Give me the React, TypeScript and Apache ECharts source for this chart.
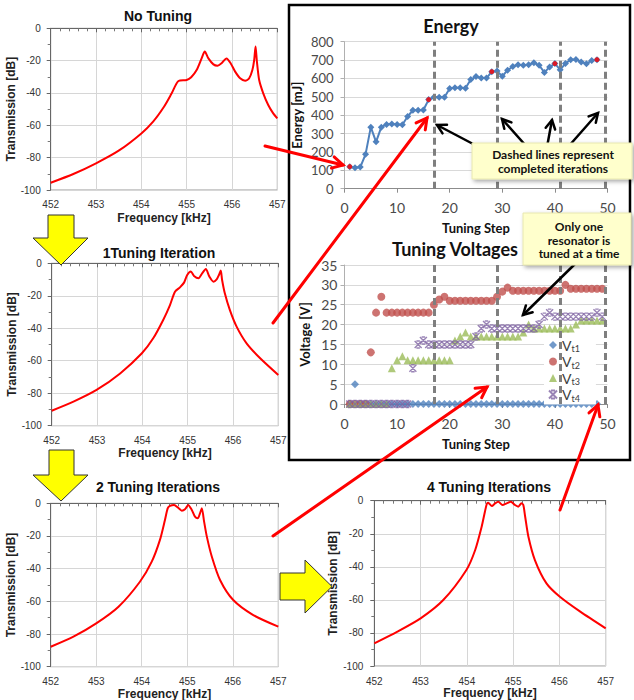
import { useEffect, useRef } from "react";
import * as echarts from "echarts";

// ---------- Transmission curves (frequency kHz, transmission dB) ----------
const FREQ_0 = [452, 452.5, 453, 453.5, 454, 454.26, 454.5, 454.67, 454.82, 455, 455.1, 455.22, 455.33, 455.4, 455.48, 455.59, 455.68, 455.77, 455.88, 455.97, 456.07, 456.18, 456.29, 456.38, 456.45, 456.49, 456.52, 456.55, 456.6, 456.69, 456.8, 456.91, 457];
const DB_0 = [-95.5, -90.1, -83.5, -75.7, -65, -57.7, -48.5, -40.2, -32.6, -32, -30.3, -25.8, -18.6, -14.4, -18.6, -22.3, -23.1, -21.6, -18.6, -21.6, -26.8, -30.9, -32.4, -30.9, -25.8, -19.6, -11.3, -20.6, -32, -40.2, -47.4, -52.6, -55.7];

const FREQ_1 = [452, 452.48, 452.99, 453.51, 453.99, 454.24, 454.46, 454.61, 454.72, 454.83, 454.92, 454.99, 455.07, 455.14, 455.24, 455.32, 455.4, 455.48, 455.57, 455.64, 455.69, 455.73, 455.76, 455.82, 455.93, 456.08, 456.3, 456.6, 457];
const DB_1 = [-90.8, -85.2, -78, -67.8, -55.4, -46.2, -34.9, -25.7, -17.5, -14.8, -11.9, -7.2, -5.1, -7.8, -9.2, -6.2, -3.5, -8.2, -11.3, -9.9, -7.2, -4.5, -10.3, -18.5, -28.7, -39, -49.3, -58.5, -68.8];

const FREQ_2 = [452, 452.5, 453, 453.49, 453.96, 454.22, 454.4, 454.51, 454.57, 454.62, 454.71, 454.8, 454.88, 454.95, 455.02, 455.1, 455.17, 455.23, 455.28, 455.32, 455.37, 455.43, 455.54, 455.72, 456.01, 456.45, 457];
const DB_2 = [-87.8, -81.6, -73.5, -63.3, -48, -35.7, -22.4, -10.2, -3.1, -1.6, -1, -2.7, -4.5, -3.7, -1, -4.1, -8.2, -9.2, -6.1, -3.1, -11.2, -20.4, -32.7, -46.9, -59.2, -68.4, -75.5];

const FREQ_4 = [452, 452.5, 453, 453.49, 453.99, 454.18, 454.32, 454.39, 454.43, 454.46, 454.54, 454.61, 454.68, 454.77, 454.86, 454.95, 455.04, 455.11, 455.18, 455.22, 455.26, 455.33, 455.47, 455.72, 456.01, 456.45, 457];
const DB_4 = [-86.3, -79.2, -71.2, -60.1, -41.9, -29.8, -15.7, -6.7, -2, -1.2, -3.2, -1.6, -0.6, -2.6, -1.6, -0.6, -2.6, -3.6, -1.6, -2.6, -9.7, -21.8, -35.9, -50, -58.1, -67.1, -77.2];

const FREQ_TICKS = [452, 453, 454, 455, 456, 457];

// ---------- Energy vs tuning step ----------
const STEPS = [1, 2, 3, 4, 5, 6, 7, 8, 9, 10, 11, 12, 13, 14, 15, 16, 17, 18, 19, 20, 21, 22, 23, 24, 25, 26, 27, 28, 29, 30, 31, 32, 33, 34, 35, 36, 37, 38, 39, 40, 41, 42, 43, 44, 45, 46, 47, 48, 49];
const ENERGY = [120, 114, 118, 187, 335, 255, 335, 350, 352, 350, 348, 393, 427, 427, 428, 485, 498, 498, 498, 545, 550, 550, 547, 594, 610, 602, 602, 637, 640, 612, 645, 665, 675, 672, 675, 685, 672, 633, 662, 681, 648, 681, 702, 703, 690, 680, 698, 702];
const ITER_STEPS = [1, 16, 28, 40, 48];
const ITER_ENERGY = [120, 485, 637, 681, 702];
const ITER_DONE = [17, 29, 41, 49.6];

// ---------- Tuning voltages ----------
const VT1 = [0, 5, 0, 0, 0, 0, 0, 0, 0, 0, 0, 0, 0, 0, 0, 0, 0, 0, 0, 0, 0, 0, 0, 0, 0, 0, 0, 0, 0, 0, 0, 0, 0, 0, 0, 0, 0, 0, 0, 0, 0, 0, 0, 0, 0, 0, 0, 0];
const VT2 = [0, 0, 0, 0, 13, 23, 27, 23, 23, 23, 23, 23, 23, 23, 23, 23, 25, 26.3, 27, 26, 26, 26, 26, 26, 26, 26, 26, 26, 27, 28.3, 29.3, 28.5, 28.5, 28.5, 28.5, 28.5, 28.5, 28.5, 28.5, 28.5, 28.5, 30, 29, 29, 29, 29, 29, 29, 29];
const VT3 = [0, 0, 0, 0, 0, 0, 0, 0, 9, 11, 12, 11, 11, 11, 11, 11, 11, 11, 11, 11, 16, 17, 18, 17, 17, 17, 17, 17, 17, 17, 17, 17, 17, 18, 20, 19, 19, 19, 19, 19, 19, 19, 19, 20, 21, 21, 21, 21, 21];
const VT4 = [0, 0, 0, 0, 0, 0, 0, 0, 0, 0, 0, 0, 9, 15, 16, 15, 15, 15, 15, 15, 15, 15, 15, 15, 17, 19, 20, 19, 19, 19, 19, 19, 19, 19, 19, 19, 20, 22, 23, 22, 22, 22, 22, 22, 22, 22, 22, 23, 22];

const ARIAL = "'Liberation Sans', Arial, sans-serif";
const CAL = "Lato, 'Open Sans', sans-serif";

const pairs = (xs: number[], ys: number[]) => ys.map((y, i) => [xs[i], y]);

function txAxis(gi: number, margin: number, gap: number) {
  return {
    type: "value", gridIndex: gi, min: FREQ_TICKS[0], max: FREQ_TICKS[FREQ_TICKS.length - 1], interval: 1,
    name: "Frequency [kHz]", nameLocation: "middle", nameGap: gap,
    nameTextStyle: { fontFamily: ARIAL, fontWeight: "bold", fontSize: 12, color: "#222" },
    axisLine: { show: true, lineStyle: { color: "#666", width: 1 } },
    axisTick: { show: true, length: 4, lineStyle: { color: "#666" } },
    minorTick: { show: true, splitNumber: 5, length: 3, lineStyle: { color: "#777" } },
    axisLabel: { fontFamily: ARIAL, fontSize: 10, color: "#333", margin },
    splitLine: { show: true, lineStyle: { color: "#d6d6d6" } },
  };
}
function tyAxis(gi: number, margin: number, gap: number) {
  return {
    type: "value", gridIndex: gi, min: -100, max: 0, interval: 20,
    name: "Transmission [dB]", nameLocation: "middle", nameGap: gap,
    nameTextStyle: { fontFamily: ARIAL, fontWeight: "bold", fontSize: 12, color: "#222" },
    axisLine: { show: true, lineStyle: { color: "#666", width: 1 } },
    axisTick: { show: true, length: 4, lineStyle: { color: "#666" } },
    minorTick: { show: true, splitNumber: 2, length: 3, lineStyle: { color: "#777" } },
    axisLabel: { fontFamily: ARIAL, fontSize: 10, color: "#333", margin },
    splitLine: { show: true, lineStyle: { color: "#d6d6d6" } },
  };
}

function arrow(x1: number, y1: number, x2: number, y2: number, color: string, width: number, head: number, z: number) {
  const ang = Math.atan2(y2 - y1, x2 - x1);
  const a1 = ang + Math.PI - 0.5;
  const a2 = ang + Math.PI + 0.5;
  return [
    { type: "line", z, shape: { x1, y1, x2, y2 }, style: { stroke: color, lineWidth: width, lineCap: "round" } },
    {
      type: "polyline", z,
      shape: { points: [[x2 + head * Math.cos(a1), y2 + head * Math.sin(a1)], [x2, y2], [x2 + head * Math.cos(a2), y2 + head * Math.sin(a2)]] },
      style: { stroke: color, lineWidth: width, fill: "none", lineJoin: "miter", lineCap: "round" },
    },
  ];
}

function title(text: string, x: number, y: number, font: string) {
  return { type: "text", z: 50, x, y, style: { text, font, fill: "#111", textAlign: "center", textVerticalAlign: "middle" } };
}

const X_SYMBOL = "path://M0,0L10,10M10,0L0,10M2.5,0L7.5,0M2.5,10L7.5,10";

export default function App() {
  const ref = useRef<HTMLDivElement>(null);
  useEffect(() => {
    if (!ref.current) return;
    const chart = echarts.init(ref.current, null, { renderer: "svg" });

    const dashLine = {
      silent: true, symbol: ["none", "none"], label: { show: false },
      lineStyle: { color: "#7f7f7f", width: 3, type: [7, 4] },
      data: ITER_DONE.map((v) => ({ xAxis: v })),
    };

    const stepAxis = (gi: number, margin: number) => ({
      type: "value", gridIndex: gi, min: 0, max: 50, interval: 10,
      name: "Tuning Step", nameLocation: "middle", nameGap: 33,
      nameTextStyle: { fontFamily: CAL, fontWeight: "bold", fontSize: 13, color: "#111" },
      axisLine: { show: true, lineStyle: { color: "#8c8c8c" } },
      axisTick: { show: true, length: 4, lineStyle: { color: "#8c8c8c" } },
      axisLabel: { fontFamily: CAL, fontSize: 14, color: "#4a4a4a", margin },
      splitLine: { show: false },
    });

    const legendNames: Record<string, string> = { Vt1: "t1", Vt2: "t2", Vt3: "t3", Vt4: "t4" };

    const graphics: any[] = [
      // frame around the tuning plots
      { type: "rect", z: 40, shape: { x: 289, y: 5, width: 341, height: 455 }, style: { fill: "none", stroke: "#000", lineWidth: 2.5 } },
      title("No Tuning", 158, 16, `bold 14px ${ARIAL}`),
      title("1Tuning Iteration", 159, 253, `bold 14px ${ARIAL}`),
      title("2 Tuning Iterations", 158, 487, `bold 14px ${ARIAL}`),
      title("4 Tuning Iterations", 489, 487, `bold 14px ${ARIAL}`),
      title("Energy", 451, 26, `bold 18px ${CAL}`),
      title("Tuning Voltages", 455, 249, `bold 18px ${CAL}`),
      // yellow block arrows
      { type: "polygon", z: 60, shape: { points: [[48, 215], [74, 215], [74, 238], [88, 238], [61, 265], [33, 238], [48, 238]] }, style: { fill: "#ffff00", stroke: "#333", lineWidth: 1 } },
      { type: "polygon", z: 60, shape: { points: [[49, 450], [74, 450], [74, 475], [88, 475], [61, 501], [33, 475], [49, 475]] }, style: { fill: "#ffff00", stroke: "#333", lineWidth: 1 } },
      { type: "polygon", z: 60, shape: { points: [[280, 573], [305, 573], [305, 560], [332, 586.5], [305, 613], [305, 600], [280, 600]] }, style: { fill: "#ffff00", stroke: "#333", lineWidth: 1 } },
      // black arrows from callouts
      ...arrow(475, 145, 437, 125, "#000", 2.5, 10, 70),
      ...arrow(527, 147, 502, 119, "#000", 2.5, 10, 70),
      ...arrow(547, 147, 552, 120, "#000", 2.5, 10, 70),
      ...arrow(568, 147, 598, 113, "#000", 2.5, 10, 70),
      ...arrow(577, 262, 523, 315, "#000", 2.5, 10, 70),
      // callouts
      { type: "rect", z: 80, shape: { x: 472, y: 143, width: 160, height: 36 }, style: { fill: "#ffffcc", stroke: "#e8e8b0", lineWidth: 1, shadowBlur: 4, shadowOffsetX: 2, shadowOffsetY: 2, shadowColor: "rgba(0,0,0,0.35)" } },
      { type: "text", z: 81, x: 553, y: 161, style: { text: "Dashed lines represent\ncompleted iterations", font: `bold 12px ${CAL}`, fill: "#111", textAlign: "center", textVerticalAlign: "middle", lineHeight: 14 } },
      { type: "rect", z: 80, shape: { x: 523, y: 213, width: 108, height: 52 }, style: { fill: "#ffffcc", stroke: "#e8e8b0", lineWidth: 1, shadowBlur: 4, shadowOffsetX: 2, shadowOffsetY: 2, shadowColor: "rgba(0,0,0,0.35)" } },
      { type: "text", z: 81, x: 579, y: 240, style: { text: "Only one\nresonator is\ntuned at a time", font: `bold 12px ${CAL}`, fill: "#111", textAlign: "center", textVerticalAlign: "middle", lineHeight: 13.5 } },
      // red arrows
      ...arrow(265, 146, 343, 165, "#ff0000", 3, 12, 90),
      ...arrow(273, 323, 427, 118, "#ff0000", 3, 12, 90),
      ...arrow(273, 536, 487, 387, "#ff0000", 3, 12, 90),
      ...arrow(560, 510, 598, 405, "#ff0000", 3, 12, 90),
    ];

    chart.setOption({
      animation: false,
      backgroundColor: "#ffffff",
      grid: [
        { left: 50.7, top: 28.3, width: 226.6, height: 161.7, show: true, borderColor: "#999", borderWidth: 1, outerBoundsMode: "none" },
        { left: 51.7, top: 263.3, width: 226.6, height: 162.4, show: true, borderColor: "#999", borderWidth: 1, outerBoundsMode: "none" },
        { left: 50.7, top: 503.3, width: 227.6, height: 163.4, show: true, borderColor: "#999", borderWidth: 1, outerBoundsMode: "none" },
        { left: 374.3, top: 500.7, width: 231.4, height: 165.3, show: true, borderColor: "#999", borderWidth: 1, outerBoundsMode: "none" },
        { left: 344.5, top: 41.7, width: 263, height: 147, outerBoundsMode: "none" },
        { left: 344.5, top: 265, width: 263, height: 139, outerBoundsMode: "none" },
      ],
      xAxis: [
        txAxis(0, 9, 22),
        txAxis(1, 10, 20),
        txAxis(2, 10, 16),
        txAxis(3, 10, 15.5),
        stepAxis(4, 12),
        stepAxis(5, 12.5),
      ],
      yAxis: [
        tyAxis(0, 10, 27),
        tyAxis(1, 10, 27),
        tyAxis(2, 10, 24),
        tyAxis(3, 11, 24),
        {
          type: "value", gridIndex: 4, min: 0, max: 800, interval: 100,
          name: "Energy [mJ]", nameLocation: "middle", nameGap: 41,
          nameTextStyle: { fontFamily: CAL, fontWeight: "bold", fontSize: 13, color: "#111" },
          axisLine: { show: true, lineStyle: { color: "#b0b0b0" } },
          axisTick: { show: true, length: 4, lineStyle: { color: "#b0b0b0" } },
          axisLabel: { fontFamily: CAL, fontSize: 13, color: "#4a4a4a", margin: 11 },
          splitLine: { show: true, lineStyle: { color: "#d9d9d9" } },
        },
        {
          type: "value", gridIndex: 5, min: 0, max: 35, interval: 5,
          name: "Voltage [V]", nameLocation: "middle", nameGap: 33,
          nameTextStyle: { fontFamily: CAL, fontWeight: "bold", fontSize: 13, color: "#111" },
          axisLine: { show: true, lineStyle: { color: "#b0b0b0" } },
          axisTick: { show: true, length: 4, lineStyle: { color: "#b0b0b0" } },
          axisLabel: { fontFamily: CAL, fontSize: 14, color: "#4a4a4a", margin: 7 },
          splitLine: { show: true, lineStyle: { color: "#d9d9d9" } },
        },
      ],
      legend: {
        data: ["Vt1", "Vt2", "Vt3", "Vt4"],
        orient: "vertical", left: 544, top: 336,
        itemGap: 1.5, itemWidth: 8, itemHeight: 8,
        padding: [2, 16, 2, 4],
        backgroundColor: "#ffffff",
        formatter: (name: string) => `{v|V}{s|${legendNames[name]}}`,
        textStyle: {
          color: "#404040",
          rich: {
            v: { fontFamily: CAL, fontSize: 14, color: "#404040", lineHeight: 16 },
            s: { fontFamily: CAL, fontSize: 9, color: "#404040", lineHeight: 10, verticalAlign: "bottom" },
          },
        },
      },
      series: [
        { type: "line", xAxisIndex: 0, yAxisIndex: 0, data: pairs(FREQ_0, DB_0), showSymbol: false, smooth: 0.25, lineStyle: { color: "#ff0000", width: 2 } },
        { type: "line", xAxisIndex: 1, yAxisIndex: 1, data: pairs(FREQ_1, DB_1), showSymbol: false, smooth: 0.25, lineStyle: { color: "#ff0000", width: 2 } },
        { type: "line", xAxisIndex: 2, yAxisIndex: 2, data: pairs(FREQ_2, DB_2), showSymbol: false, smooth: 0.25, lineStyle: { color: "#ff0000", width: 2 } },
        { type: "line", xAxisIndex: 3, yAxisIndex: 3, data: pairs(FREQ_4, DB_4), showSymbol: false, smooth: 0.25, lineStyle: { color: "#ff0000", width: 2 } },
        {
          type: "line", name: "Energy", xAxisIndex: 4, yAxisIndex: 4, data: pairs(STEPS, ENERGY),
          symbol: "diamond", symbolSize: 7, showSymbol: true,
          lineStyle: { color: "#4f81bd", width: 2 }, itemStyle: { color: "#4f81bd" },
          markLine: dashLine,
        },
        {
          type: "scatter", name: "Iteration", xAxisIndex: 4, yAxisIndex: 4, data: pairs(ITER_STEPS, ITER_ENERGY),
          symbol: "circle", symbolSize: 5, itemStyle: { color: "#ff0000" }, z: 5,
        },
        {
          type: "scatter", name: "Vt1", xAxisIndex: 5, yAxisIndex: 5, data: pairs(STEPS, VT1),
          symbol: "diamond", symbolSize: 8, itemStyle: { color: "#4f81bd" },
          markLine: dashLine,
        },
        {
          type: "scatter", name: "Vt2", xAxisIndex: 5, yAxisIndex: 5, data: pairs(STEPS, VT2),
          symbol: "circle", symbolSize: 8, itemStyle: { color: "#c0504d" },
        },
        {
          type: "scatter", name: "Vt3", xAxisIndex: 5, yAxisIndex: 5, data: pairs(STEPS, VT3),
          symbol: "triangle", symbolSize: 8, itemStyle: { color: "#9bbb59" },
        },
        {
          type: "scatter", name: "Vt4", xAxisIndex: 5, yAxisIndex: 5, data: pairs(STEPS, VT4),
          symbol: X_SYMBOL, symbolSize: 7, itemStyle: { color: "rgba(0,0,0,0)", borderColor: "#8064a2", borderWidth: 1.4 },
        },
      ],
      graphic: { elements: graphics },
    });
    return () => chart.dispose();
  }, []);
  return <div ref={ref} style={{ position: "absolute", left: 0, top: 0, width: 634, height: 700 }} />;
}
